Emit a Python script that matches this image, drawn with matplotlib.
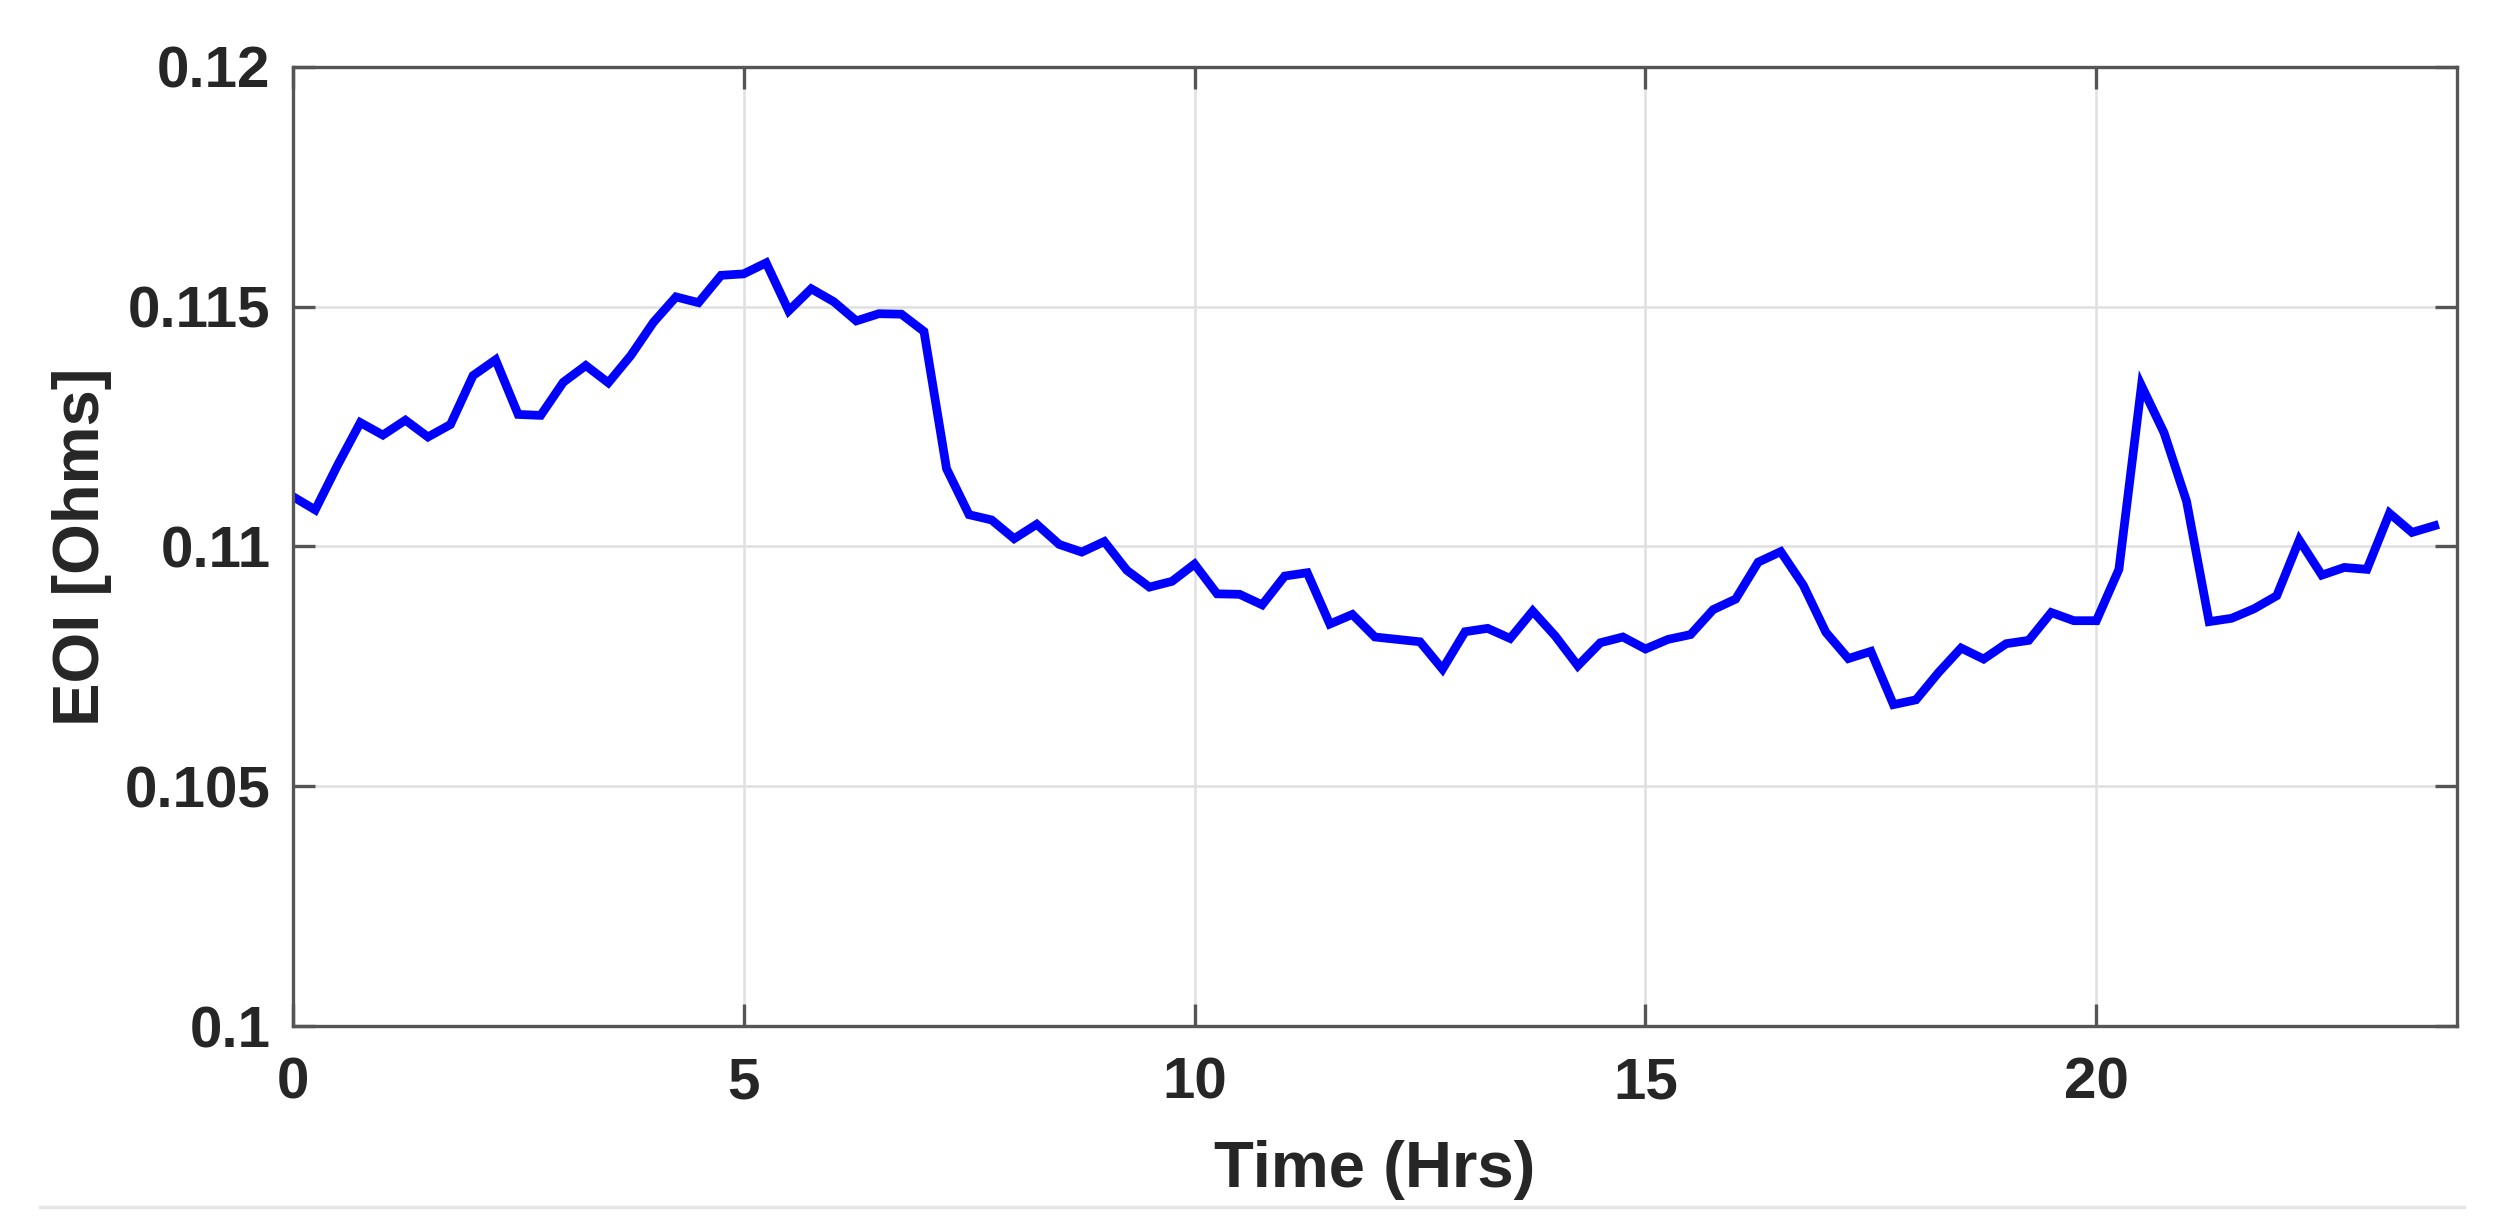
import numpy as np
import matplotlib.pyplot as plt
from matplotlib.lines import Line2D

# =========================
# DATA (15-minute steps)
# =========================
time_hrs = np.arange(0, 24, 0.25)

eoi_ohms = [
    0.11104, 0.11076, 0.11170, 0.11258, 0.11232, 0.11263, 0.11228, 0.11254,
    0.11356, 0.11389, 0.11275, 0.11273, 0.11342, 0.11377, 0.11341, 0.11398,
    0.11467, 0.11520, 0.11508, 0.11565, 0.11568, 0.11591, 0.11491, 0.11537,
    0.11510, 0.11470, 0.11485, 0.11484, 0.11448, 0.11162, 0.11066, 0.11055,
    0.11016, 0.11046, 0.11004, 0.10988, 0.11010, 0.10950, 0.10915, 0.10927,
    0.10963, 0.10901, 0.10900, 0.10878, 0.10938, 0.10945, 0.10838, 0.10858,
    0.10811, 0.10806, 0.10801, 0.10744, 0.10822, 0.10829, 0.10808, 0.10865,
    0.10813, 0.10751, 0.10799, 0.10811, 0.10786, 0.10806, 0.10816, 0.10868,
    0.10890, 0.10967, 0.10989, 0.10919, 0.10821, 0.10766, 0.10781, 0.10670,
    0.10680, 0.10737, 0.10788, 0.10765, 0.10797, 0.10804, 0.10862, 0.10845,
    0.10845, 0.10952, 0.11335, 0.11237, 0.11094, 0.10843, 0.10850, 0.10870,
    0.10897, 0.11013, 0.10940, 0.10956, 0.10952, 0.11069, 0.11029, 0.11043,
]

x_ticks = [0, 5, 10, 15, 20]
y_ticks = [0.1, 0.105, 0.11, 0.115, 0.12]
y_tick_labels = ["0.1", "0.105", "0.11", "0.115", "0.12"]

# =========================
# STYLE
# =========================
plt.rcParams["font.family"] = ["Liberation Sans", "DejaVu Sans"]
plt.rcParams["font.weight"] = "bold"

text_color = "#262626"
spine_color = "#555555"

fig = plt.figure(figsize=(24.93, 12.21), dpi=100)
ax = fig.add_axes([0.1174, 0.1597, 0.8682, 0.7857])

ax.plot(time_hrs, eoi_ohms, color="#0000ff", linewidth=6.3, solid_joinstyle="miter")

ax.set_xlim(0, 24)
ax.set_ylim(0.1, 0.12)
ax.set_xticks(x_ticks)
ax.set_yticks(y_ticks)
ax.set_yticklabels(y_tick_labels)

ax.grid(True, color="#e0e0e0", linewidth=1.8)
ax.set_axisbelow(True)

for spine in ax.spines.values():
    spine.set_color(spine_color)
    spine.set_linewidth(2.4)

ax.tick_params(axis="both", which="both", direction="in", length=16, width=2.4,
               color=spine_color, top=True, right=True, labelsize=42,
               labelcolor=text_color)
ax.tick_params(axis="x", pad=22)
ax.tick_params(axis="y", pad=16)
for lbl in ax.get_xticklabels() + ax.get_yticklabels():
    lbl.set_fontweight("bold")

ax.set_xlabel("Time (Hrs)", fontsize=47, fontweight="bold", color=text_color)
ax.set_ylabel("EOI [Ohms]", fontsize=47, fontweight="bold", color=text_color)
ax.xaxis.set_label_coords(0.5, -0.119)
ax.yaxis.set_label_coords(-0.0834, 0.5)

# faint separator line at the bottom of the picture
fig.add_artist(Line2D([40 / 2493, 2464 / 2493], [1 - 1207 / 1221, 1 - 1207 / 1221],
                      color="#e6e6e6", linewidth=2.5, transform=fig.transFigure))

fig.savefig("out.png", dpi=100, facecolor="white")
